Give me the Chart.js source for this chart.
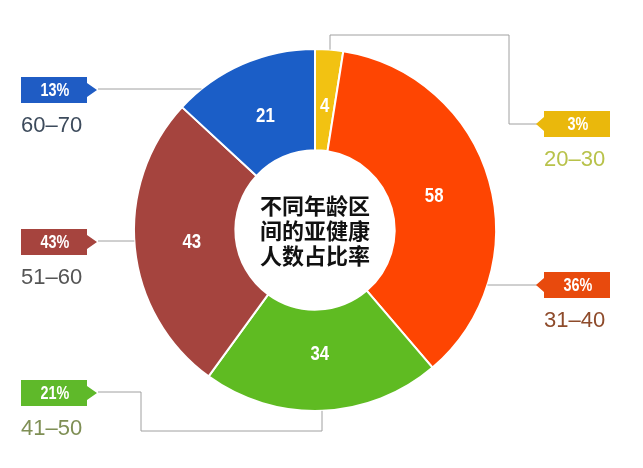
<!DOCTYPE html>
<html>
<head>
<meta charset="utf-8">
<script src="https://cdn.jsdelivr.net/npm/chart.js@4.4.1/dist/chart.umd.min.js"></script>
<style>
  html, body { margin: 0; padding: 0; background: #fff; }
  #wrap { width: 643px; height: 468px; }
</style>
</head>
<body>
<div id="wrap"><canvas id="pie"></canvas></div>
<script>
// data, clockwise from 12 o'clock
const ageGroups = ["20–30", "31–40", "41–50", "51–60", "60–70"];
const counts = [4, 58, 34, 43, 21];
const percentLabels = ["3%", "36%", "21%", "43%", "13%"];
const centerLines = ["不同年龄区", "间的亚健康", "人数占比率"];

const sliceColors = ["#f2c212", "#fe4502", "#5fbb22", "#a5443e", "#1b5ec7"];
const badgeColors = ["#eab80c", "#e84a0d", "#5fb92a", "#a6443e", "#1f5cc4"];
const rangeColors = ["#b8c24a", "#8e4b2b", "#7f8f55", "#555555", "#3d4b5c"];

// where each callout badge sits and how its leader line runs
const callouts = [
  { side: "right", y: 124, route: function (c) { return [[537, 124], [509, 124], [509, 35], [330, 35], [330, c.y - Math.sqrt(c.r * c.r - Math.pow(330 - c.x, 2))]]; } },
  { side: "right", y: 285, route: function (c) { return [[537, 285], [c.x + Math.sqrt(c.r * c.r - Math.pow(285 - c.y, 2)), 285]]; } },
  { side: "left", y: 393, route: function (c) { return [[98, 392], [141, 392], [141, 431], [322, 431], [322, c.y + Math.sqrt(c.r * c.r - Math.pow(322 - c.x, 2))]]; } },
  { side: "left", y: 242, route: function (c) { return [[98, 241], [c.x - Math.sqrt(c.r * c.r - Math.pow(241 - c.y, 2)), 241]]; } },
  { side: "left", y: 90, route: function (c) { return [[98, 89], [c.x - Math.sqrt(c.r * c.r - Math.pow(89 - c.y, 2)), 89]]; } }
];

// bold text squeezed sideways, to look like the condensed face of the original
function narrowText(ctx, text, x, y, size) {
  ctx.save();
  ctx.translate(x, y);
  ctx.scale(0.8, 1);
  ctx.font = "bold " + size + 'px "Liberation Sans", Arial, sans-serif';
  ctx.textAlign = "center";
  ctx.textBaseline = "middle";
  ctx.fillText(text, 0, 0);
  ctx.restore();
}

function drawBadge(ctx, side, yc, color, text) {
  var h = 26, w = 66;
  var x0 = side === "left" ? 21 : 544;
  var y0 = yc - h / 2;
  ctx.fillStyle = color;
  ctx.beginPath();
  if (side === "left") {
    ctx.moveTo(x0, y0);
    ctx.lineTo(x0 + w, y0);
    ctx.lineTo(x0 + w, yc - 7);
    ctx.lineTo(x0 + w + 10, yc);
    ctx.lineTo(x0 + w, yc + 7);
    ctx.lineTo(x0 + w, y0 + h);
    ctx.lineTo(x0, y0 + h);
  } else {
    ctx.moveTo(x0 + w, y0);
    ctx.lineTo(x0, y0);
    ctx.lineTo(x0, yc - 7);
    ctx.lineTo(x0 - 8, yc);
    ctx.lineTo(x0, yc + 7);
    ctx.lineTo(x0, y0 + h);
    ctx.lineTo(x0 + w, y0 + h);
  }
  ctx.closePath();
  ctx.fill();
  ctx.fillStyle = "#ffffff";
  narrowText(ctx, text, x0 + w / 2 + 1, yc + 1, 18);
  return x0;
}

const calloutPlugin = {
  id: "callouts",
  afterDatasetsDraw: function (chart) {
    var ctx = chart.ctx;
    var arcs = chart.getDatasetMeta(0).data;
    var c = { x: arcs[0].x, y: arcs[0].y, r: arcs[0].outerRadius };
    ctx.save();

    // leader lines
    ctx.strokeStyle = "#a0a0a0";
    ctx.lineWidth = 1;
    callouts.forEach(function (co) {
      var pts = co.route(c);
      ctx.beginPath();
      ctx.moveTo(pts[0][0], pts[0][1]);
      for (var i = 1; i < pts.length; i++) ctx.lineTo(pts[i][0], pts[i][1]);
      ctx.stroke();
    });

    // badges + age range text
    callouts.forEach(function (co, i) {
      var x0 = drawBadge(ctx, co.side, co.y, badgeColors[i], percentLabels[i]);
      ctx.fillStyle = rangeColors[i];
      ctx.font = '22px "Liberation Sans", Arial, sans-serif';
      ctx.textAlign = "left";
      ctx.textBaseline = "alphabetic";
      ctx.fillText(ageGroups[i], x0, co.y + 42);
    });

    // numbers inside the slices, a little inside the middle of the ring
    ctx.fillStyle = "#ffffff";
    arcs.forEach(function (arc, i) {
      var p = arc.tooltipPosition();
      var x = c.x + (p.x - c.x) * 0.95;
      var y = c.y + (p.y - c.y) * 0.95;
      narrowText(ctx, String(counts[i]), x, y, 21);
    });

    // centre caption
    ctx.fillStyle = "#111111";
    ctx.font = 'bold 22px "Noto Sans CJK SC", sans-serif';
    ctx.textAlign = "center";
    ctx.textBaseline = "middle";
    centerLines.forEach(function (line, i) {
      ctx.fillText(line, c.x, c.y - 24 + i * 25);
    });
    ctx.restore();
  }
};

new Chart(document.getElementById("pie"), {
  type: "doughnut",
  data: {
    labels: ageGroups,
    datasets: [{
      data: counts,
      backgroundColor: sliceColors,
      borderColor: "#ffffff",
      borderWidth: 2
    }]
  },
  options: {
    responsive: true,
    maintainAspectRatio: false,
    animation: false,
    cutout: "44%",
    layout: { padding: { top: 48, bottom: 56, left: 100, right: 113 } },
    plugins: {
      legend: { display: false },
      tooltip: { enabled: false }
    }
  },
  plugins: [calloutPlugin]
});
</script>
</body>
</html>
